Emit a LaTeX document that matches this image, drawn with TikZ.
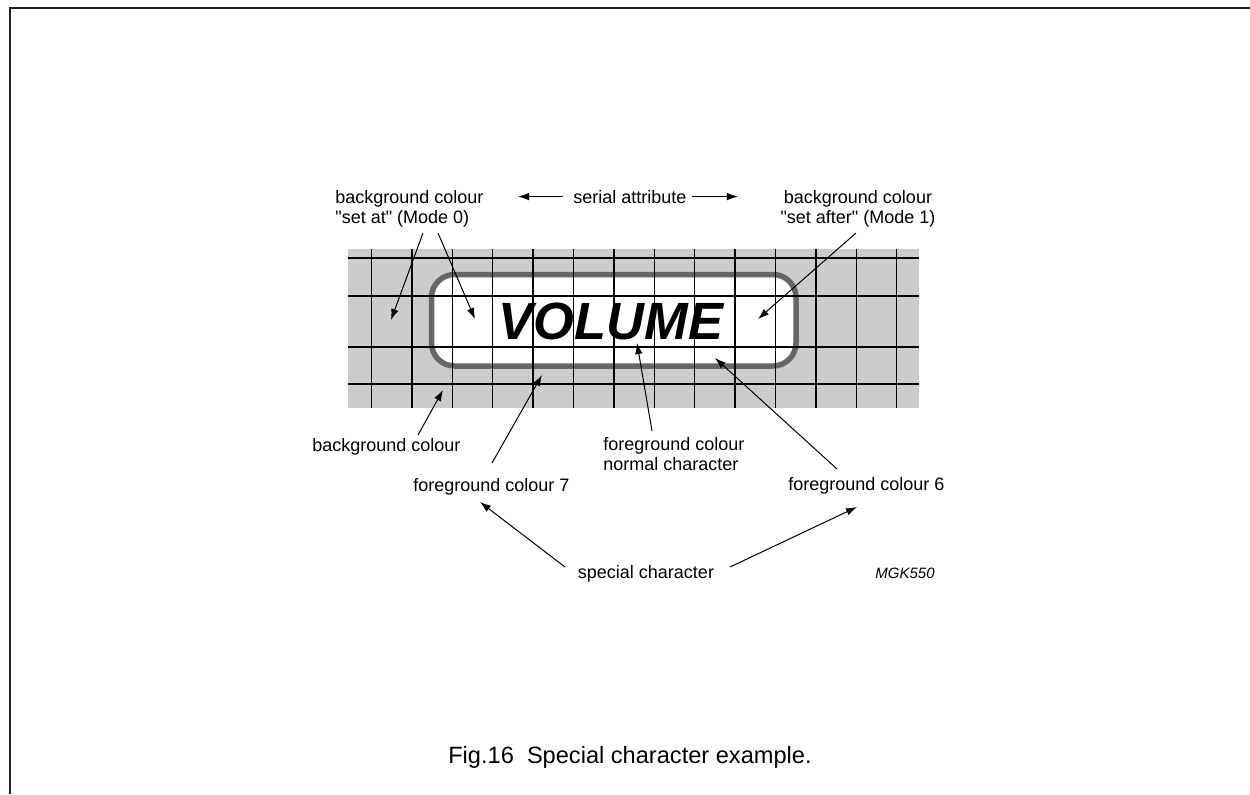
\documentclass[tikz,border=0pt]{standalone}
\usepackage{fontspec}
\setmainfont{Liberation Sans}[Ligatures=TeXOff]
\usetikzlibrary{arrows.meta}
\definecolor{gridfill}{HTML}{CCCCCC}
\definecolor{outlinegray}{HTML}{666666}
\definecolor{framecol}{HTML}{222222}
\begin{document}
\begin{tikzpicture}[x=0.5pt,y=-0.5pt,
  lbl/.style={inner sep=0pt, font=\fontsize{9}{10.25}\selectfont},
  arr/.style={line width=0.5pt, -{Latex[length=5.5pt,width=3.8pt]}},
  gridline/.style={line width=0.75pt, black}]
\useasboundingbox (0,0) rectangle (1250,794);
% frame
\draw[framecol, line width=1pt] (1250,7.5) -- (10,7.5) -- (10,794);
% grid
\fill[gridfill] (348,249) rectangle (919,408);
\filldraw[fill=white, draw=outlinegray, line width=2.75pt, rounded corners=11.5pt] (431.5,274.5) rectangle (796,366);
\foreach \yy in {258,296,347,384} \draw[gridline] (348,\yy) -- (919,\yy);
\foreach \i in {0,...,13} \draw[gridline] ({371.5+40.4*\i},249) -- ({371.5+40.4*\i},408);
\node[inner sep=0pt, font=\fontsize{26.2}{30}\selectfont\bfseries\itshape] (vol) at (611,321.5) {VOLUME};
% top labels
\node[lbl, anchor=base west] (tl1) at (335,203) {background colour};
\node[lbl, anchor=base west] (tl2) at (335,223) {"set at" (Mode 0)};
\node[lbl, anchor=base] (ser) at (630,203) {serial attribute};
\node[lbl, anchor=base] (tr1) at (858,203) {background colour};
\node[lbl, anchor=base] (tr2) at (858,223) {"set after" (Mode 1)};
% bottom labels
\node[lbl, anchor=base west] (bg) at (312,451) {background colour};
\node[lbl, anchor=base west] (fc7) at (413,491) {foreground colour 7};
\node[lbl, anchor=base west] (fn1) at (603,450) {foreground colour};
\node[lbl, anchor=base west] (fn2) at (603,470.5) {normal character};
\node[lbl, anchor=base west] (fc6) at (788,490) {foreground colour 6};
\node[lbl, anchor=base] (sp) at (646,578) {special character};
\node[inner sep=0pt, anchor=base east, font=\fontsize{7.5}{9}\selectfont\itshape] (mgk) at (935,578) {MGK550};
\node[inner sep=0pt, anchor=base, font=\fontsize{11.8}{14}\selectfont] (cap) at (630,763) {Fig.16\ \ Special character example.};
% arrow end points
\coordinate (a1s) at (423,233); \coordinate (a1e) at (391,320);
\coordinate (a2s) at (438,233); \coordinate (a2e) at (475,319);
\coordinate (a3s) at (856,233); \coordinate (a3e) at (758,319);
\coordinate (a4s) at (418,435); \coordinate (a4e) at (443,390);
\coordinate (a5s) at (492,463); \coordinate (a5e) at (542,375);
\coordinate (a6s) at (652,431); \coordinate (a6e) at (637,343);
\coordinate (a7s) at (837,469); \coordinate (a7e) at (715,358);
\coordinate (a8s) at (565,567); \coordinate (a8e) at (480,502);
\coordinate (a9s) at (730,567); \coordinate (a9e) at (857,507);
% arrows
\draw[arr] ([xshift=-5pt]ser.west) -- ([xshift=-27.5pt]ser.west);
\draw[arr] ([xshift=2.5pt]ser.east) -- ([xshift=25.5pt]ser.east);
\draw[arr] (a1s) -- (a1e);
\draw[arr] (a2s) -- (a2e);
\draw[arr] (a3s) -- (a3e);
\draw[arr] (a4s) -- (a4e);
\draw[arr] (a5s) -- (a5e);
\draw[arr] (a6s) -- (a6e);
\draw[arr] (a7s) -- (a7e);
\draw[arr] (a8s) -- (a8e);
\draw[arr] (a9s) -- (a9e);
\end{tikzpicture}
\end{document}
